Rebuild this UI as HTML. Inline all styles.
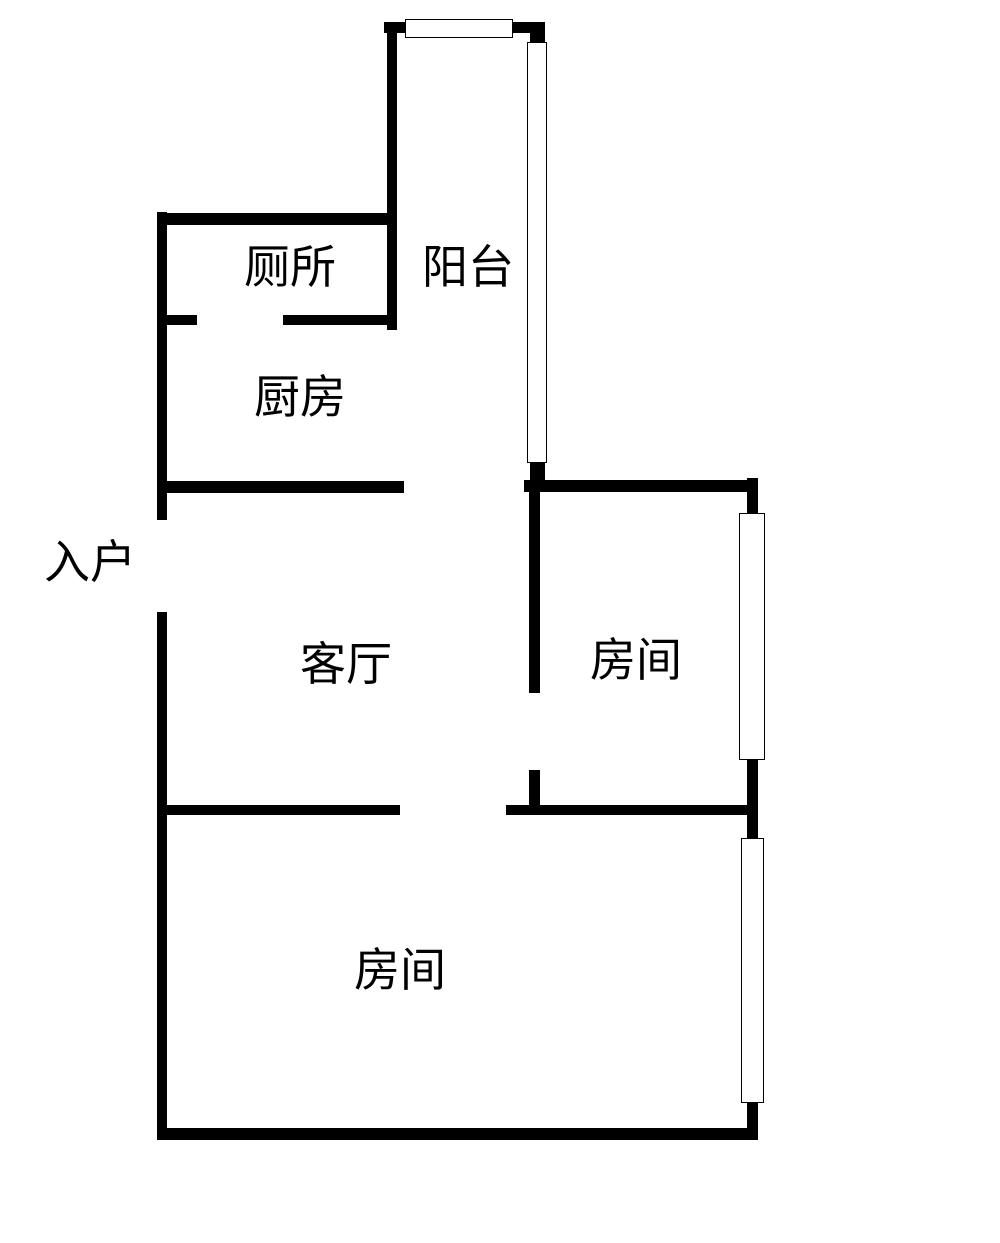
<!DOCTYPE html>
<html><head><meta charset="utf-8"><style>
body{margin:0;background:#fff;width:1000px;height:1243px;position:relative;overflow:hidden;font-family:"Liberation Sans","Noto Sans CJK SC",sans-serif}
.w{position:absolute;background:#000}
.win{position:absolute;background:#fff;border:1.5px solid #000;box-sizing:border-box}
.t{position:absolute;font-size:46px;line-height:46px;color:#000;white-space:nowrap;transform:translate(-50%,-50%)}
</style></head><body>
<div class="w" style="left:384px;top:22px;width:160px;height:11px"></div>
<div class="win" style="left:405px;top:19px;width:108px;height:19px"></div>
<div class="w" style="left:387px;top:22px;width:10px;height:308px"></div>
<div class="w" style="left:530px;top:22px;width:15px;height:470px"></div>
<div class="win" style="left:527px;top:42px;width:20px;height:421px"></div>
<div class="w" style="left:157px;top:213px;width:240px;height:12px"></div>
<div class="w" style="left:157px;top:212px;width:10px;height:308px"></div>
<div class="w" style="left:157px;top:315px;width:40px;height:10px"></div>
<div class="w" style="left:283px;top:315px;width:114px;height:10px"></div>
<div class="w" style="left:157px;top:481px;width:247px;height:12px"></div>
<div class="w" style="left:524px;top:480px;width:234px;height:12px"></div>
<div class="w" style="left:529px;top:480px;width:11px;height:213px"></div>
<div class="w" style="left:747px;top:478px;width:11px;height:662px"></div>
<div class="win" style="left:739px;top:513px;width:26px;height:247px"></div>
<div class="w" style="left:529px;top:770px;width:11px;height:40px"></div>
<div class="w" style="left:506px;top:805px;width:252px;height:10px"></div>
<div class="w" style="left:167px;top:805px;width:233px;height:10px"></div>
<div class="win" style="left:741px;top:838px;width:23px;height:265px"></div>
<div class="w" style="left:157px;top:612px;width:10px;height:528px"></div>
<div class="w" style="left:157px;top:1128px;width:601px;height:12px"></div>
<div class="t" style="left:290px;top:267px">厕所</div>
<div class="t" style="left:468px;top:267px">阳台</div>
<div class="t" style="left:300px;top:397px">厨房</div>
<div class="t" style="left:90px;top:562px">入户</div>
<div class="t" style="left:346px;top:664px">客厅</div>
<div class="t" style="left:636px;top:660px">房间</div>
<div class="t" style="left:400px;top:970px">房间</div>
</body></html>
